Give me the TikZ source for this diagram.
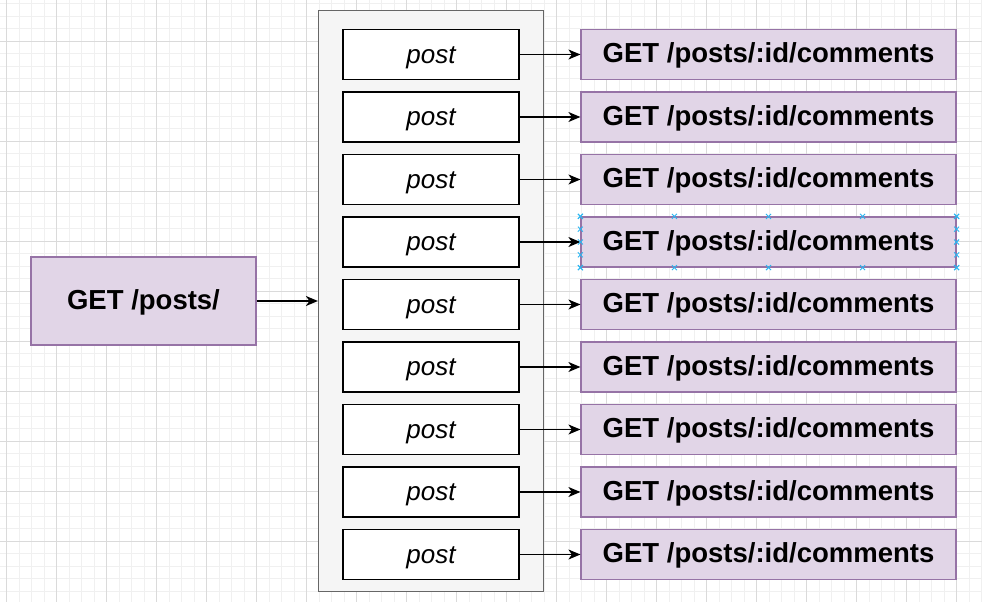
\documentclass[tikz,border=0pt]{standalone}
\usepackage{fontspec}
\setmainfont{Liberation Sans}
\usetikzlibrary{arrows.meta,calc}
\definecolor{gridminor}{HTML}{F0F0F0}
\definecolor{gridmajor}{HTML}{DADADA}
\definecolor{purplefill}{HTML}{E1D5E7}
\definecolor{purpleline}{HTML}{9673A6}
\definecolor{groupfill}{HTML}{F5F5F5}
\definecolor{groupline}{HTML}{666666}
\definecolor{handle}{HTML}{29B6F2}
\tikzset{
  endpoint/.style={draw=purpleline, fill=purplefill, line width=1.2pt, inner sep=0pt,
    text height=21.5pt, text depth=5.5pt,
    font=\fontsize{27.5}{30}\selectfont\bfseries},
  itembox/.style={draw=black, fill=white, line width=1.1pt, inner sep=0pt,
    minimum width=176pt, minimum height=50pt,
    text height=23pt, text depth=5.5pt,
    font=\fontsize{26}{30}\selectfont\itshape},
  groupbox/.style={draw=groupline, fill=groupfill, line width=1.2pt, inner sep=0pt},
  link/.style={draw=black, line width=1.2pt, -{Stealth[length=12pt,width=10pt,inset=3.5pt]}},
  xmark/.style={draw=handle, line width=0.9pt},
}
\newcommand{\handlemark}[1]{%
  \draw[xmark] ($(#1)+(-2.5,-2.5)$) -- ($(#1)+(2.5,2.5)$);
  \draw[xmark] ($(#1)+(-2.5,2.5)$) -- ($(#1)+(2.5,-2.5)$);}
\begin{document}
\begin{tikzpicture}[x=1pt,y=-1pt]
  \useasboundingbox (0,0) rectangle (982,602);
  \fill[white] (0,0) rectangle (982,602);
  % background grid
  \foreach \k in {0,...,78} {
    \draw[gridminor, line width=1pt] ({6.7+12.5*\k},0) -- ({6.7+12.5*\k},602);
  }
  \foreach \k in {0,...,47} {
    \draw[gridminor, line width=1pt] (0,{3.8+12.5*\k}) -- (982,{3.8+12.5*\k});
  }
  \foreach \k in {0,...,19} {
    \draw[gridmajor, line width=1pt] ({6.7+50*\k},0) -- ({6.7+50*\k},602);
  }
  \foreach \k in {0,...,11} {
    \draw[gridmajor, line width=1pt] (0,{41.3+50*\k-50}) -- (982,{41.3+50*\k-50});
  }

  % source request
  \node[endpoint, minimum width=225pt, minimum height=88pt] (root) at (143.5,301) {GET /posts/};

  % container of posts
  \node[groupbox, minimum width=225pt, minimum height=581pt] (group) at (431,301) {};

  \draw[link] (root.east) -- (root.east -| group.west);

  % posts and their comment requests
  \foreach \r in {1,...,9} {
    \node[itembox] (post\r) at (431,{54.5+62.5*(\r-1)}) {post};
    \node[endpoint, minimum width=375pt, minimum height=50pt] (comments\r) at (768.5,{54.5+62.5*(\r-1)}) {GET /posts/:id/comments};
    \draw[link] (post\r.east) -- (comments\r.west);
  }

  % selection handles
  \foreach \p in {0,0.25,0.5,0.75,1} {
    \coordinate (ht) at ($(comments4.north west)!\p!(comments4.north east)$);
    \coordinate (hb) at ($(comments4.south west)!\p!(comments4.south east)$);
    \coordinate (hl) at ($(comments4.north west)!\p!(comments4.south west)$);
    \coordinate (hr) at ($(comments4.north east)!\p!(comments4.south east)$);
    \handlemark{ht}
    \handlemark{hb}
    \handlemark{hl}
    \handlemark{hr}
  }
\end{tikzpicture}
\end{document}
